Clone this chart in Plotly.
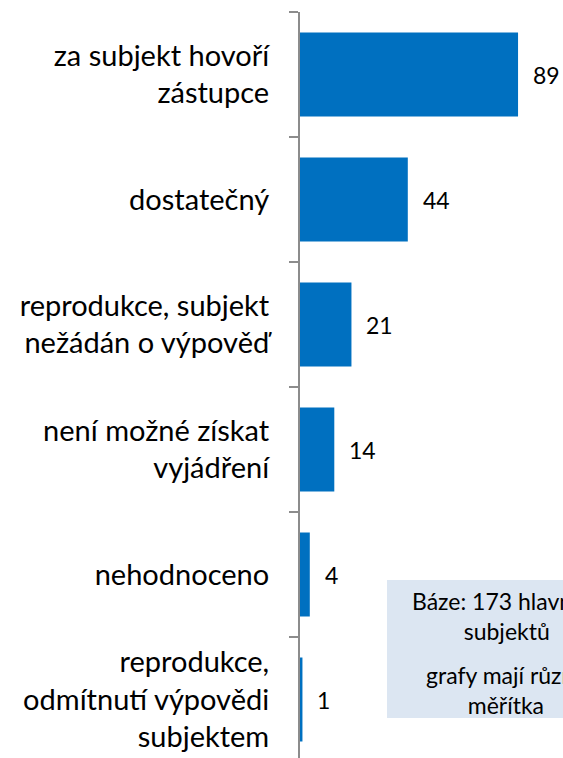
import plotly.graph_objects as go

categories = [
    "za subjekt hovoří<br>zástupce",
    "dostatečný",
    "reprodukce, subjekt<br>nežádán o výpověď",
    "není možné získat<br>vyjádření",
    "nehodnoceno",
    "reprodukce,<br>odmítnutí výpovědi<br>subjektem",
]
values = [89, 44, 21, 14, 4, 1]
note_lines_1 = "Báze: 173 hlavních<br>subjektů"
note_lines_2 = "grafy mají různá<br>měřítka"

FONT = "Lato"
W, H = 563, 758
ML, MT, MB, MR = 300, 12, 0, 0
plot_w = W - ML - MR
plot_h = H - MT - MB
px_per_unit = 2.45
cat_px = 125.0

fig = go.Figure()
fig.add_trace(go.Bar(
    x=values, y=categories, orientation="h",
    marker=dict(color="#0070C0", line=dict(width=0)),
    hoverinfo="skip",
))

for v, c in zip(values, categories):
    fig.add_annotation(x=v, y=c, xref="x", yref="y", text=str(v),
                       showarrow=False, xanchor="left", yanchor="middle",
                       xshift=13, font=dict(family=FONT, size=23, color="#000000"))

def py(y_px):
    return (H - MB - y_px) / plot_h

def pxx(x_px):
    return (x_px - ML) / plot_w

fig.add_shape(type="rect", xref="paper", yref="paper",
              x0=pxx(387), x1=pxx(627), y0=py(718), y1=py(580),
              fillcolor="#DCE6F2", line=dict(width=0), layer="above")
fig.add_annotation(xref="paper", yref="paper", x=pxx(506), y=py(616),
                   text=note_lines_1, showarrow=False, xanchor="center", yanchor="middle",
                   align="center", font=dict(family=FONT, size=23, color="#000000"))
fig.add_annotation(xref="paper", yref="paper", x=pxx(506), y=py(690),
                   text=note_lines_2, showarrow=False, xanchor="center", yanchor="middle",
                   align="center", font=dict(family=FONT, size=23, color="#000000"))

n_vis = plot_h / cat_px
fig.update_layout(
    width=W, height=H,
    margin=dict(l=ML, r=MR, t=MT, b=MB, autoexpand=False),
    paper_bgcolor="white", plot_bgcolor="white",
    showlegend=False,
    bargap=0.328,
    font=dict(family=FONT, color="#000000"),
    xaxis=dict(range=[0, plot_w / px_per_unit], visible=False, fixedrange=True),
    yaxis=dict(
        type="category",
        range=[-0.5 + n_vis, -0.5],
        showline=True, linecolor="#8C8C8C", linewidth=2,
        ticks="outside", tickson="boundaries", ticklen=9, tickwidth=1.5, tickcolor="#8C8C8C",
        ticklabelstandoff=23,
        tickfont=dict(family=FONT, size=29, color="#000000"),
        showgrid=False, zeroline=False, automargin=False, fixedrange=True,
    ),
)

fig.write_html("out.html", config={"displayModeBar": False, "staticPlot": True},
               post_script="document.body.style.margin='0';document.body.style.overflow='hidden';")
